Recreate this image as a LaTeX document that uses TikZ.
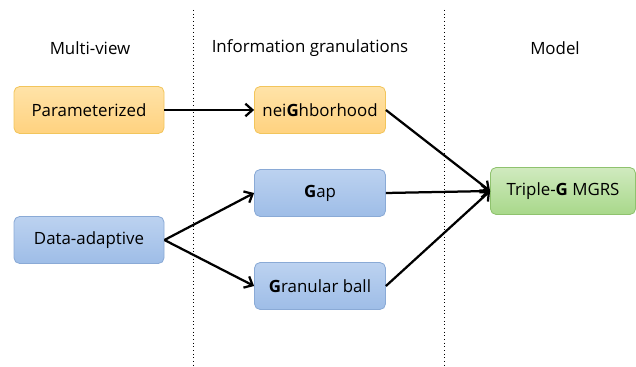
\documentclass[tikz,border=0pt]{standalone}
\usepackage{fontspec}
\setmainfont{Open Sans}
\usetikzlibrary{arrows.meta, positioning}

\definecolor{orangetop}{HTML}{FFE3A8}
\definecolor{orangebot}{HTML}{FFD27F}
\definecolor{orangeline}{HTML}{F2C55C}
\definecolor{bluetop}{HTML}{BCD2F0}
\definecolor{bluebot}{HTML}{9EBDE7}
\definecolor{blueline}{HTML}{8AAAD6}
\definecolor{greentop}{HTML}{D0EABF}
\definecolor{greenbot}{HTML}{A8D88A}
\definecolor{greenline}{HTML}{8FC26E}

\begin{document}
\begin{tikzpicture}[x=0.025cm, y=-0.025cm,
        font=\fontsize{12}{14}\selectfont,
        box/.style={rectangle, rounded corners=4pt, line width=0.6pt,
            minimum height=47*0.025cm, inner sep=2pt},
        orangebox/.style={box, draw=orangeline, top color=orangetop, bottom color=orangebot},
        bluebox/.style={box, draw=blueline, top color=bluetop, bottom color=bluebot},
        greenbox/.style={box, draw=greenline, top color=greentop, bottom color=greenbot},
        link/.style={-{Straight Barb[length=5pt, width=9pt]}, line width=1.6pt}]
    \useasboundingbox (0,0) rectangle (636,367);

    % column separators
    \draw[dotted, line width=0.6pt] (193,10) -- (193,367);
    \draw[dotted, line width=0.6pt] (444,10) -- (444,367);

    % column titles
    \node (multiview) at (90,48) {Multi-view};
    \node (granulations) at (310,48) {Information granulations};
    \node (model) at (555,48) {Model};

    % views
    \node[orangebox, minimum width=150*0.025cm] (param) at (89,110) {Parameterized};
    \node[bluebox, minimum width=150*0.025cm] (adaptive) at (89,240) {Data-adaptive};

    % granulations
    \node[orangebox, minimum width=131*0.025cm] (neigh) at (320,110) {nei\textbf{G}hborhood};
    \node[bluebox, minimum width=131*0.025cm] (gap) at (320,193) {\textbf{G}ap};
    \node[bluebox, minimum width=131*0.025cm] (ball) at (320,286) {\textbf{G}ranular ball};

    % model
    \node[greenbox, minimum width=145*0.025cm] (mgrs) at (563,191) {Triple-\textbf{G} MGRS};

    \draw[link] (param) -- (neigh);
    \draw[link] (adaptive.east) -- (gap.west);
    \draw[link] (adaptive.east) -- (ball.west);
    \draw[link] (neigh.east) -- (mgrs.west);
    \draw[link] (gap.east) -- (mgrs.west);
    \draw[link] (ball.east) -- (mgrs.west);
\end{tikzpicture}
\end{document}
